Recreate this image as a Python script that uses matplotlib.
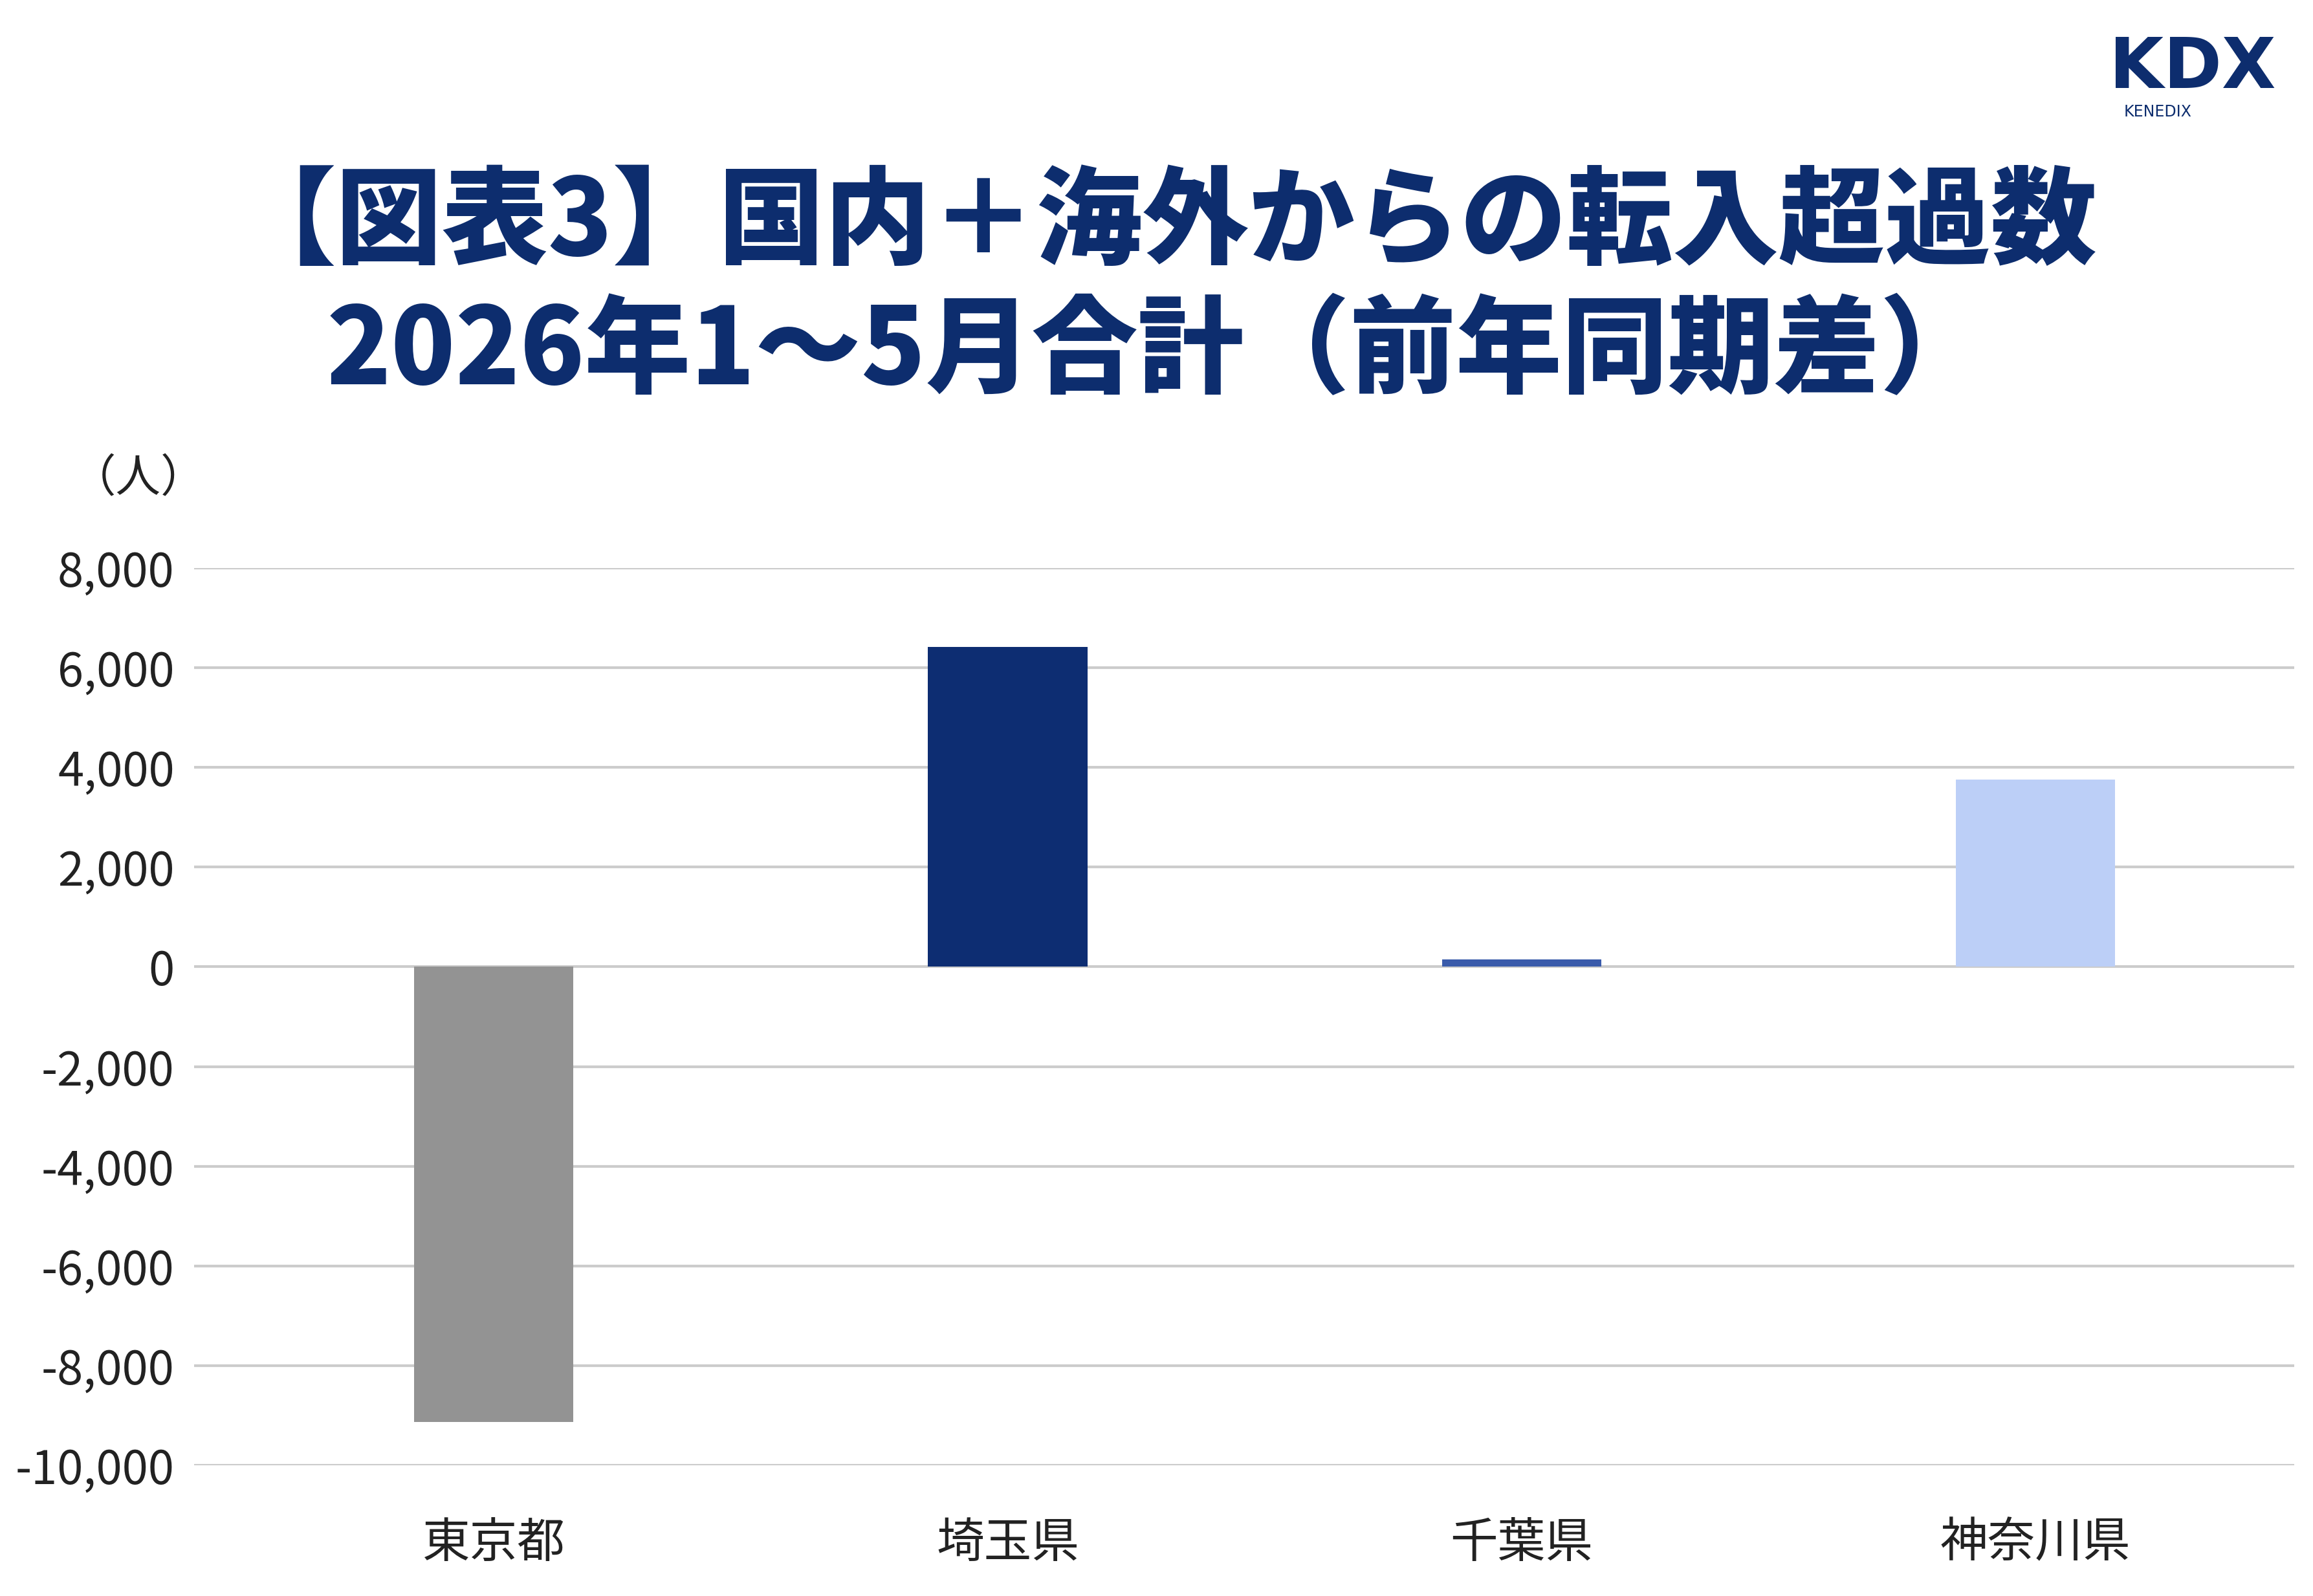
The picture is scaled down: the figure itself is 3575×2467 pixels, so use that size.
import matplotlib
matplotlib.use("Agg")
import matplotlib.pyplot as plt

plt.rcParams['font.family'] = ['Noto Sans CJK JP', 'DejaVu Sans']

categories = ["東京都", "埼玉県", "千葉県", "神奈川県"]
values = [-9130, 6420, 150, 3760]
colors = ["#939393", "#0d2d72", "#3a5bab", "#bccff7"]
yticks = list(range(-10000, 8001, 2000))

fig = plt.figure(figsize=(35.75, 24.67), dpi=100)
ax = fig.add_axes([0.084, 0.082, 0.908, 0.562])
x = list(range(len(categories)))
ax.bar(x, values, width=0.31, color=colors, zorder=3)
ax.set_xlim(-0.583, 3.504)
ax.set_ylim(-10000, 8000)
ax.set_yticks(yticks)
ax.set_yticklabels([f"{v:,}" for v in yticks], fontsize=52, color="#222222")
ax.set_xticks(x)
ax.set_xticklabels(categories, fontsize=53, color="#222222")
ax.tick_params(length=0, pad=22)
ax.tick_params(axis='x', pad=60)
ax.grid(axis='y', color="#cccccc", linewidth=3, zorder=0)
for s in ax.spines.values():
    s.set_visible(False)

navy = "#0d2d6e"
fig.text(0.503, 0.860, "【図表3】国内＋海外からの転入超過数", ha='center', va='center',
         fontsize=118, fontweight='black', color=navy)
fig.text(0.500, 0.779, "2026年1～5月合計（前年同期差）", ha='center', va='center',
         fontsize=118, fontweight='black', color=navy)
fig.text(0.06, 0.700, "（人）", ha='center', va='center', fontsize=50, color="#222222")
fig.text(0.948, 0.957, "KDX", ha='center', va='center', fontsize=78, fontweight='bold',
         color=navy, family=['DejaVu Sans'])
fig.text(0.933, 0.930, "KENEDIX", ha='center', va='center', fontsize=17, color=navy,
         family=['DejaVu Sans'])
fig.savefig("out.png", dpi=100)
